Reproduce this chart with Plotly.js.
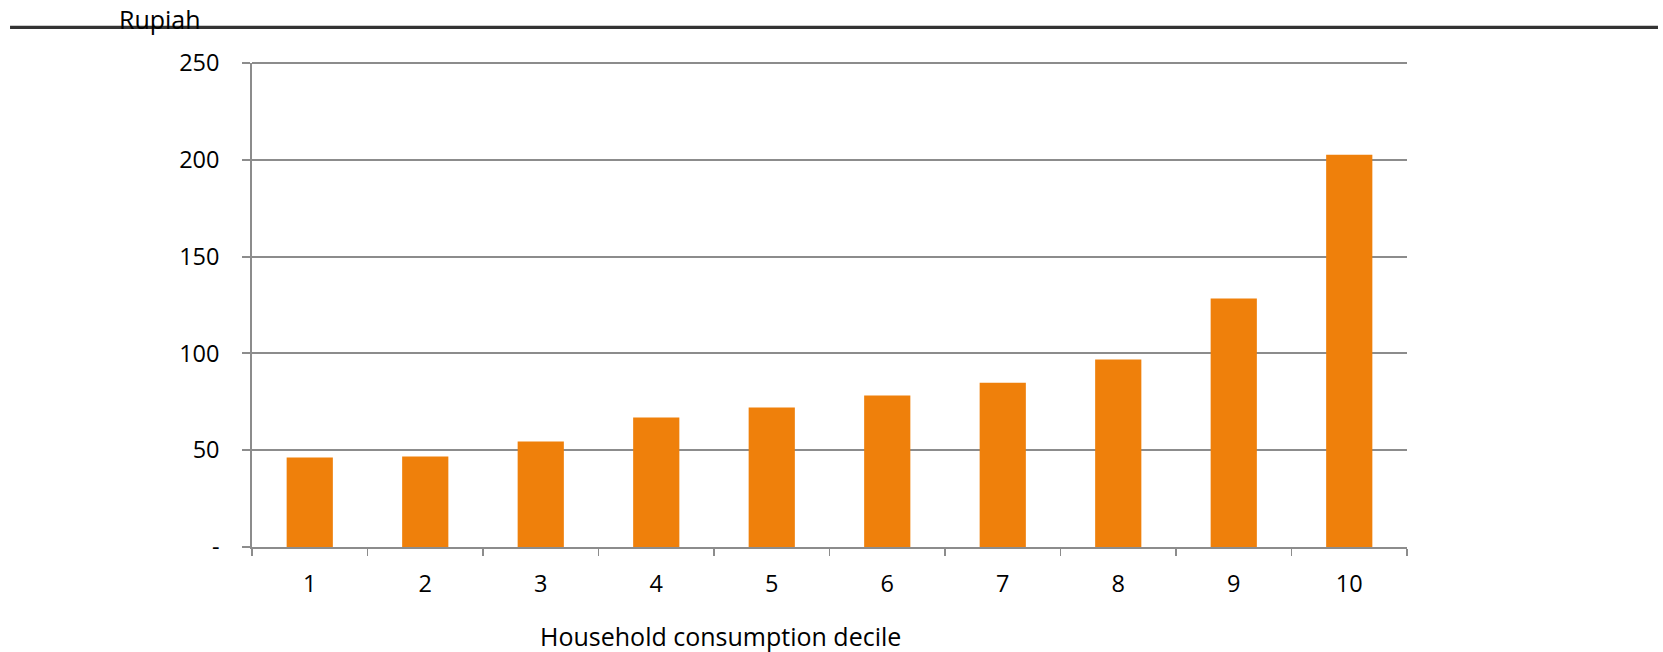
<!DOCTYPE html>
<html>
<head>
<meta charset="utf-8">
<script src="https://cdn.plot.ly/plotly-3.0.1.min.js"></script>
<style>
html,body{margin:0;padding:0;background:#fff;}
#chart{width:1663px;height:652px;}
</style>
</head>
<body>
<div id="chart"></div>
<script>
// Data
const deciles = ["1","2","3","4","5","6","7","8","9","10"];
const rupiah = [46.2, 46.7, 54.5, 66.9, 72.1, 78.3, 84.8, 96.9, 128.4, 202.6];
const yTickVals = [0, 50, 100, 150, 200, 250];
const yTickText = ["-", "50", "100", "150", "200", "250"];
const yUnitLabel = "Rupiah";
const xAxisLabel = "Household consumption decile";

const FONT = "Open Sans, Liberation Sans, sans-serif";
const TICKFONT = {family: FONT, size: 23.5, color: "#000"};
const LABELFONT = {family: FONT, size: 25, color: "#000"};

const trace = {
  type: "bar",
  x: deciles,
  y: rupiah,
  marker: {color: "#EF800B", line: {width: 0}},
  hoverinfo: "x+y"
};

const layout = {
  width: 1663,
  height: 652,
  margin: {l: 252, r: 256, t: 63, b: 105},
  paper_bgcolor: "#ffffff",
  plot_bgcolor: "#ffffff",
  showlegend: false,
  bargap: 0.6,
  font: {family: FONT, size: 23.5, color: "#000000"},
  xaxis: {
    type: "category",
    showgrid: false,
    showline: true,
    linecolor: "#8c8c8c",
    linewidth: 1.8,
    ticks: "outside",
    tickson: "boundaries",
    ticklen: 7,
    tickwidth: 1.8,
    tickcolor: "#8c8c8c",
    ticklabelstandoff: 15,
    tickfont: TICKFONT,
    zeroline: false,
    fixedrange: true
  },
  yaxis: {
    range: [0, 250],
    tickvals: yTickVals,
    ticktext: yTickText,
    showgrid: true,
    gridcolor: "#8c8c8c",
    gridwidth: 1.8,
    showline: true,
    linecolor: "#8c8c8c",
    linewidth: 1.8,
    ticks: "outside",
    ticklen: 8,
    tickwidth: 1.8,
    tickcolor: "#8c8c8c",
    ticklabelstandoff: 18,
    tickfont: TICKFONT,
    zeroline: false,
    fixedrange: true
  },
  shapes: [
    {type: "line", xref: "paper", yref: "paper",
     x0: -0.2095, x1: 1.2173, y0: 1.0736, y1: 1.0736,
     line: {color: "#333333", width: 3.2}, layer: "below"},
    {type: "line", xref: "paper", yref: "paper",
     x0: 0, x1: 1, y0: 1, y1: 1,
     line: {color: "#8c8c8c", width: 1.8}}
  ],
  annotations: [
    {text: yUnitLabel, xref: "paper", yref: "paper", x: -0.1171, y: 1.0916,
     xanchor: "left", yanchor: "middle", showarrow: false,
     font: LABELFONT},
    {text: xAxisLabel, xref: "paper", yref: "paper", x: 0.406, y: -0.183,
     xanchor: "center", yanchor: "middle", showarrow: false,
     font: LABELFONT}
  ]
};

Plotly.newPlot("chart", [trace], layout, {displayModeBar: false, staticPlot: true});
</script>
</body>
</html>
